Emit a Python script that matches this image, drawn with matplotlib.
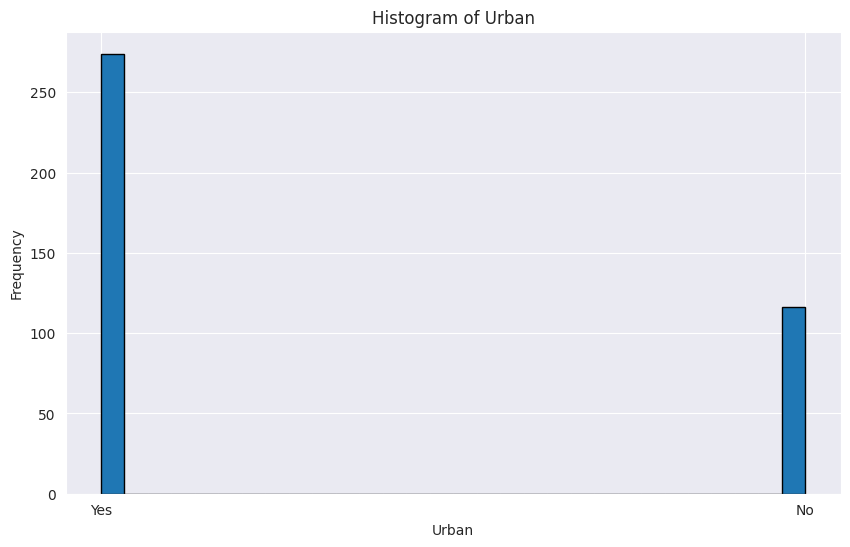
import numpy as np
import pandas as pd
import seaborn as sns
import matplotlib
matplotlib.use("Agg")
import matplotlib.pyplot as plt

categories = ['Yes', 'No']
counts = [274, 116]

urban = pd.Series(np.repeat(categories, counts), name='Urban')

sns.set_style('darkgrid')
plt.figure(figsize=(10, 6))
plt.hist(urban, bins=30, edgecolor='black')
plt.title('Histogram of Urban')
plt.xlabel('Urban')
plt.ylabel('Frequency')
plt.savefig('out.png', dpi=100, bbox_inches='tight')
